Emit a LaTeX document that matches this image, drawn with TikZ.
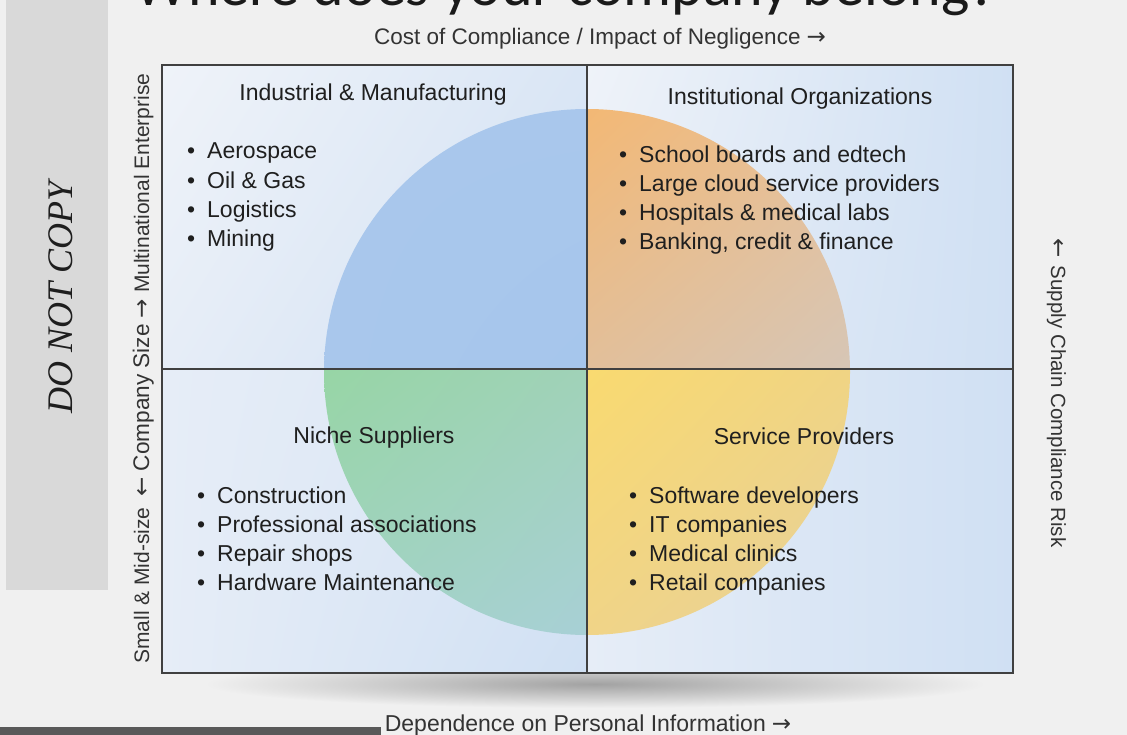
\documentclass[tikz,border=0pt]{standalone}
\usepackage{fontspec}
\usetikzlibrary{shadings}
\setmainfont{Liberation Sans}
\newfontfamily\titlefont{Carlito}
\newfontfamily\stampfont{Liberation Serif}
\newfontfamily\arrowfont{DejaVu Sans}

\definecolor{pagebg}{HTML}{F0F0F0}
\definecolor{stampgray}{HTML}{D9D9D9}
\definecolor{stamptxt}{HTML}{1E1E1E}
\definecolor{titletxt}{HTML}{1A1A1A}
\definecolor{txt}{HTML}{1F1F1F}
\definecolor{axistxt}{HTML}{333333}
\definecolor{framecol}{HTML}{404040}
\definecolor{shadowgray}{HTML}{A2A2A2}
% quadrant backgrounds
\definecolor{qa}{HTML}{EFF3F9}
\definecolor{qb}{HTML}{E6EDF7}
\definecolor{qc}{HTML}{DAE6F5}
\definecolor{qd}{HTML}{D0E0F3}
% disc colours
\definecolor{blueA}{HTML}{A9C7EC}
\definecolor{blueB}{HTML}{A6C6EC}
\definecolor{orA}{HTML}{F3B874}
\definecolor{orB}{HTML}{E8C098}
\definecolor{orC}{HTML}{E2BF9A}
\definecolor{orD}{HTML}{D6C6B6}
\definecolor{grA}{HTML}{97D5A5}
\definecolor{grB}{HTML}{A0D2B8}
\definecolor{grC}{HTML}{A2D3C4}
\definecolor{grD}{HTML}{A8D0D6}
\definecolor{yeA}{HTML}{F9DA70}
\definecolor{yeB}{HTML}{F0D484}
\definecolor{yeC}{HTML}{F0D488}
\definecolor{yeD}{HTML}{E6D09C}

\begin{document}
\begin{tikzpicture}[x=1pt,y=-1pt,
  item/.style={anchor=base west, inner sep=0pt, text=txt,
    font=\fontsize{23}{28}\selectfont},
  head/.style={anchor=base, inner sep=0pt, text=txt,
    font=\fontsize{23}{28}\selectfont},
  axis/.style={inner sep=0pt, text=axistxt},
  framel/.style={draw=framecol, line width=1.8pt},
]
\newcommand\bul[1]{\makebox[20pt][l]{\textbullet}#1}
\newcommand\arr[1]{{\arrowfont\fontsize{23}{24}\selectfont #1}}
\useasboundingbox (0,0) rectangle (1127,735);
\begin{scope}
\clip (0,0) rectangle (1127,735);
\fill[pagebg] (0,0) rectangle (1127,735);

% heading of the slide, partly above the page edge
\node[anchor=base, inner sep=0pt, text=titletxt,
  font=\titlefont\fontsize{60}{60}\selectfont] (title) at (566,6)
  {Where does your company belong?};

% grey stamp panel
\fill[stampgray] (6,-5) rectangle (108,590);
\node[rotate=90, inner sep=0pt, text=stamptxt,
  font=\stampfont\itshape\fontsize{36}{36}\selectfont] (stamp) at (61,297)
  {DO NOT COPY};

% soft shadow under the chart
\shade[inner color=shadowgray, outer color=pagebg]
  (595,684) ellipse[x radius=390pt, y radius=24pt];

% quadrant backgrounds
\shade[upper left=qa, upper right=qc, lower left=qb, lower right=qd]
  (162,65) rectangle (587,369);
\shade[upper left=qa, upper right=qd, lower left=qb, lower right=qd]
  (587,65) rectangle (1013,369);
\shade[upper left=qb, upper right=qc, lower left=qb, lower right=qd]
  (162,369) rectangle (587,673);
\shade[upper left=qb, upper right=qd, lower left=qb, lower right=qd]
  (587,369) rectangle (1013,673);

% four-coloured disc
\begin{scope}
\clip (587,372) circle[radius=263pt];
\shade[upper left=blueA, upper right=blueA, lower left=blueA, lower right=blueB]
  (322,105) rectangle (587,369);
\shade[upper left=orA, upper right=orB, lower left=orC, lower right=orD]
  (587,105) rectangle (852,369);
\shade[upper left=grA, upper right=grB, lower left=grC, lower right=grD]
  (322,369) rectangle (587,640);
\shade[upper left=yeA, upper right=yeB, lower left=yeC, lower right=yeD]
  (587,369) rectangle (852,640);
\end{scope}

% chart frame and axes through the centre
\draw[framel] (162,65) rectangle (1013,673);
\draw[framel] (587,65) -- (587,673);
\draw[framel] (162,369) -- (1013,369);

% quadrant headings
\node[head] (hTL) at (373,101) {Industrial \& Manufacturing};
\node[head] (hTR) at (800,105) {Institutional Organizations};
\node[head] (hBL) at (374,443) {Niche Suppliers};
\node[head] (hBR) at (804,444) {Service Providers};

% quadrant lists
\node[item] (tl1) at (187,159) {\bul{Aerospace}};
\node[item] (tl2) at (187,188.3) {\bul{Oil \& Gas}};
\node[item] (tl3) at (187,217.6) {\bul{Logistics}};
\node[item] (tl4) at (187,247) {\bul{Mining}};

\node[item] (tr1) at (619,163) {\bul{School boards and edtech}};
\node[item] (tr2) at (619,192) {\bul{Large cloud service providers}};
\node[item] (tr3) at (619,221) {\bul{Hospitals \& medical labs}};
\node[item] (tr4) at (619,250) {\bul{Banking, credit \& finance}};

\node[item] (bl1) at (197,503) {\bul{Construction}};
\node[item] (bl2) at (197,532) {\bul{Professional associations}};
\node[item] (bl3) at (197,561) {\bul{Repair shops}};
\node[item] (bl4) at (197,590) {\bul{Hardware Maintenance}};

\node[item] (br1) at (629,503) {\bul{Software developers}};
\node[item] (br2) at (629,532) {\bul{IT companies}};
\node[item] (br3) at (629,561) {\bul{Medical clinics}};
\node[item] (br4) at (629,590) {\bul{Retail companies}};

% axis captions
\node[axis, anchor=base, font=\fontsize{22.5}{24}\selectfont] (xtop) at (600,45)
  {Cost of Compliance / Impact of Negligence\hspace{6pt}\arr{→}};
\node[axis, anchor=base, font=\fontsize{23}{24}\selectfont] (xbot) at (588,731)
  {Dependence on Personal Information\hspace{6pt}\arr{→}};
\node[axis, anchor=base west, rotate=90, font=\fontsize{21}{24}\selectfont] (yleft) at (149,664)
  {Small \& Mid-size\hspace{11pt}\arr{←}\hspace{6pt}{\fontsize{22.6}{26}\selectfont Company Size}\hspace{6pt}\arr{→}\hspace{6pt}Multinational Enterprise};
\node[axis, anchor=base, rotate=-90, font=\fontsize{20.5}{24}\selectfont] (yright) at (1051,393)
  {\arr{←}\hspace{8pt}Supply Chain Compliance Risk};

% dark strip at the lower edge
\fill[black!65] (0,727) rectangle (381,740);
\end{scope}
\end{tikzpicture}
\end{document}
